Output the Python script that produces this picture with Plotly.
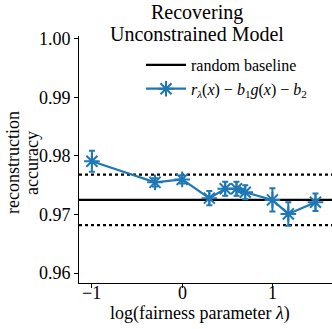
import plotly.graph_objects as go

# data
log_lambda = [-1.0, -0.301, 0.0, 0.301, 0.477, 0.602, 0.699, 1.0, 1.176, 1.477]
accuracy = [0.9791, 0.9755, 0.9760, 0.9728, 0.9744, 0.9744, 0.9738, 0.9725, 0.9701, 0.9721]
accuracy_err = [0.0018, 0.0007, 0.0007, 0.0012, 0.0012, 0.0012, 0.0012, 0.0020, 0.0020, 0.0015]
baseline = 0.9725
baseline_band = 0.0043
y_ticks = [0.96, 0.97, 0.98, 0.99, 1.00]
x_ticks = [-1, 0, 1]
x_tick_labels = ["−1", "0", "1"]

FONT = "Liberation Serif"
BLUE = "#1f77b4"

W, H = 332, 329
L, R, T, B = 79, 0, 36, 46
PW, PH = W - L - R, H - T - B


def px_x(px):
    return (px - L) / PW


def px_y(py):
    return (H - B - py) / PH


fig = go.Figure()

# legend entry for baseline
fig.add_trace(go.Scatter(
    x=[None], y=[None], mode="lines",
    line=dict(color="black", width=2.2),
    name="random baseline",
))

fig.add_trace(go.Scatter(
    x=log_lambda, y=accuracy, mode="lines+markers",
    line=dict(color=BLUE, width=2.2),
    marker=dict(symbol="asterisk-open", size=13, color=BLUE,
                line=dict(color=BLUE, width=2)),
    error_y=dict(type="data", array=accuracy_err, color=BLUE,
                 thickness=2, width=3),
    name="<i>r</i><sub><i>λ</i></sub>(<i>x</i>) − <i>b</i><sub>1</sub><i>g</i>(<i>x</i>) − <i>b</i><sub>2</sub>",
))

fig.add_shape(type="line", xref="x domain", yref="y", x0=0, x1=1,
              y0=baseline, y1=baseline, line=dict(color="black", width=2.2),
              layer="below")
for s in (1, -1):
    yv = baseline + s * baseline_band
    fig.add_shape(type="line", xref="x domain", yref="y", x0=0, x1=1,
                  y0=yv, y1=yv, line=dict(color="black", width=2.2, dash="dot"),
                  layer="below")

ann_font = dict(family=FONT, size=18, color="black")
annotations = [
    dict(text="Recovering", xref="paper", yref="paper",
         x=px_x(197), y=px_y(13), xanchor="center", yanchor="middle",
         showarrow=False, font=dict(family=FONT, size=20, color="black")),
    dict(text="Unconstrained Model", xref="paper", yref="paper",
         x=px_x(197), y=px_y(34), xanchor="center", yanchor="middle",
         showarrow=False, font=dict(family=FONT, size=20, color="black")),
    dict(text="log(fairness parameter <i>λ</i>)", xref="paper", yref="paper",
         x=px_x(200), y=px_y(313), xanchor="center", yanchor="middle",
         showarrow=False, font=ann_font),
    dict(text="reconstruction", xref="paper", yref="paper",
         x=px_x(13), y=px_y(163), xanchor="center", yanchor="middle", textangle=-90,
         showarrow=False, font=ann_font),
    dict(text="accuracy", xref="paper", yref="paper",
         x=px_x(32), y=px_y(163), xanchor="center", yanchor="middle", textangle=-90,
         showarrow=False, font=ann_font),
]
# x tick labels placed through the x axis scale
for v, lab in zip(x_ticks, x_tick_labels):
    annotations.append(dict(text=lab, xref="x", yref="paper", x=v, y=px_y(293),
                            xanchor="center", yanchor="middle", showarrow=False,
                            font=ann_font))

fig.update_layout(
    width=W, height=H,
    margin=dict(l=L, r=R, t=T, b=B),
    paper_bgcolor="white", plot_bgcolor="white",
    font=dict(family=FONT, size=18, color="black"),
    showlegend=True,
    legend=dict(x=px_x(141), y=px_y(48), xanchor="left", yanchor="top",
                bgcolor="rgba(0,0,0,0)",
                font=dict(family=FONT, size=16, color="black"),
                itemwidth=40, tracegroupgap=0),
    xaxis=dict(range=[-1.143, 1.66], tickvals=x_ticks, showticklabels=False,
               showline=True, linecolor="black", linewidth=1,
               ticks="outside", ticklen=4, tickcolor="black",
               showgrid=False, zeroline=False),
    yaxis=dict(range=[0.9583, 1.0005], tickvals=y_ticks, tickformat=".2f",
               showline=True, linecolor="black", linewidth=1,
               ticks="outside", ticklen=4, tickcolor="black",
               showgrid=False, zeroline=False,
               tickfont=dict(family=FONT, size=18)),
    annotations=annotations,
)

fig.write_html("out.html", config={"displayModeBar": False},
               post_script="document.body.style.margin='0';document.body.style.overflow='hidden';")
